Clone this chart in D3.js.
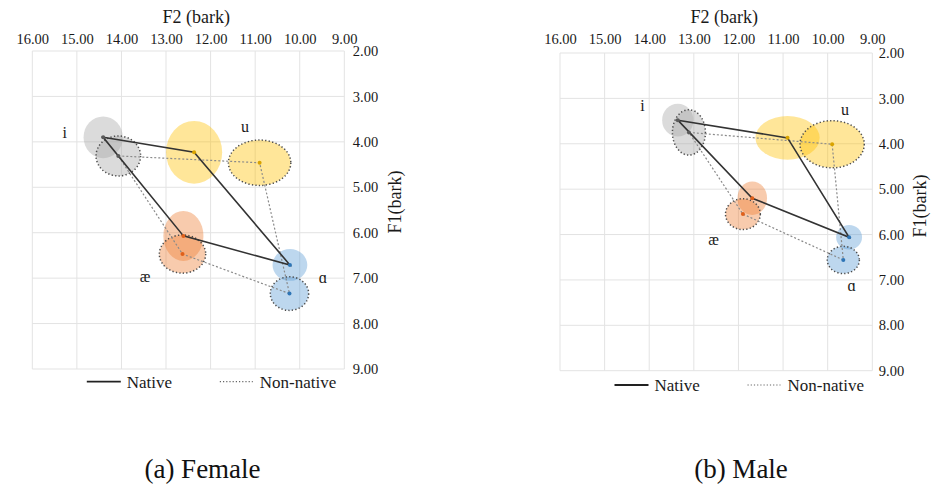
<!DOCTYPE html>
<html lang="en">
<head>
    <meta charset="UTF-8">
    <title>Vowel Space - Female and Male</title>
    <script src="https://d3js.org/d3.v7.min.js"></script>
    <style>
        body { margin: 0; background: white; }
        svg text { font-family: "Liberation Serif", "DejaVu Serif", "Noto Serif", "Times New Roman", Times, serif; }
    </style>
</head>
<body>
    <div id="chart"></div>
    <script>
        const vowels = ["i", "u", "æ", "ɑ"];
        // order the quadrilateral is drawn: i -> u -> a -> ae -> i
        const polygonOrder = ["i", "u", "ɑ", "æ"];
        const f2Ticks = [16, 15, 14, 13, 12, 11, 10, 9];
        const f1Ticks = [2, 3, 4, 5, 6, 7, 8, 9];

        // Female means (bark) and spread (ellipse radii, bark)
        const femaleNativeF2 = [14.41, 12.37, 12.61, 10.22];
        const femaleNativeF1 = [3.90, 4.23, 6.07, 6.71];
        const femaleNativeSdF2 = [0.44, 0.63, 0.45, 0.39];
        const femaleNativeSdF1 = [0.46, 0.69, 0.55, 0.35];
        const femaleNonNativeF2 = [14.07, 10.90, 12.63, 10.23];
        const femaleNonNativeF1 = [4.31, 4.46, 6.47, 7.34];
        const femaleNonNativeSdF2 = [0.50, 0.70, 0.52, 0.43];
        const femaleNonNativeSdF1 = [0.44, 0.50, 0.42, 0.37];

        // Male means (bark) and spread
        const maleNativeF2 = [13.36, 10.90, 11.69, 9.52];
        const maleNativeF1 = [3.48, 3.87, 5.20, 6.06];
        const maleNativeSdF2 = [0.35, 0.72, 0.33, 0.29];
        const maleNativeSdF1 = [0.36, 0.48, 0.37, 0.27];
        const maleNonNativeF2 = [13.11, 9.90, 11.90, 9.65];
        const maleNonNativeF1 = [3.75, 4.01, 5.55, 6.56];
        const maleNonNativeSdF2 = [0.37, 0.72, 0.39, 0.36];
        const maleNonNativeSdF1 = [0.50, 0.52, 0.34, 0.30];

        // fill colour per vowel and darker colour for the mean dot
        const fills = ["#a6a6a6", "#ffc000", "#ed7d31", "#5b9bd5"];
        const dots = ["#595959", "#d9a300", "#e0601a", "#2e75b6"];

        const width = 935, height = 488;
        const serif = "Liberation Serif, DejaVu Serif, Noto Serif, Times New Roman, serif";

        const svg = d3.select("#chart")
            .append("svg")
            .attr("width", width)
            .attr("height", height)
            .attr("font-family", serif);

        function build(f2, f1, sd2, sd1) {
            return vowels.map((v, i) => ({ vowel: v, f2: f2[i], f1: f1[i], sd2: sd2[i], sd1: sd1[i], idx: i }));
        }

        const panels = [
            {
                caption: "(a) Female",
                xr: [32.3, 344.3], yr: [51, 369],
                native: build(femaleNativeF2, femaleNativeF1, femaleNativeSdF2, femaleNativeSdF1),
                nonNative: build(femaleNonNativeF2, femaleNonNativeF1, femaleNonNativeSdF2, femaleNonNativeSdF1),
                // vowel label anchors in bark
                labels: [[15.27, 3.81], [11.23, 3.67], [13.47, 6.97], [9.48, 7.0]],
                yPad: 8.5, f1TitleX: 395, f1TitleY: 202, legendY: 381.7, captionX: 202.5
            },
            {
                caption: "(b) Male",
                xr: [560, 872.3], yr: [53, 370.7],
                native: build(maleNativeF2, maleNativeF1, maleNativeSdF2, maleNativeSdF1),
                nonNative: build(maleNonNativeF2, maleNonNativeF1, maleNonNativeSdF2, maleNonNativeSdF1),
                labels: [[14.15, 3.17], [9.61, 3.26], [12.56, 6.12], [9.46, 7.13]],
                yPad: 6.5, f1TitleX: 920, f1TitleY: 206, legendY: 385, captionX: 741
            }
        ];

        panels.forEach(p => {
            const x = d3.scaleLinear().domain([16, 9]).range(p.xr);
            const y = d3.scaleLinear().domain([2, 9]).range(p.yr);
            const g = svg.append("g");

            // grid
            g.selectAll(".vgrid").data(f2Ticks).enter().append("line")
                .attr("x1", d => x(d)).attr("x2", d => x(d))
                .attr("y1", y(2)).attr("y2", y(9))
                .attr("stroke", "#e3e3e3").attr("stroke-width", 1);
            g.selectAll(".hgrid").data(f1Ticks).enter().append("line")
                .attr("x1", x(16)).attr("x2", x(9))
                .attr("y1", d => y(d)).attr("y2", d => y(d))
                .attr("stroke", "#e3e3e3").attr("stroke-width", 1);

            // F2 axis on top
            const xAxis = g.append("g")
                .attr("transform", `translate(0, ${y(2)})`)
                .call(d3.axisTop(x).tickValues(f2Ticks).tickFormat(d3.format(".2f")).tickSize(0).tickPadding(y(2) - 44));
            xAxis.attr("font-family", serif).attr("font-size", 14.5);
            xAxis.select(".domain").remove();
            xAxis.selectAll("text").attr("fill", "#1a1a1a");

            // F1 axis on right
            const yAxis = g.append("g")
                .attr("transform", `translate(${x(9)}, 0)`)
                .call(d3.axisRight(y).tickValues(f1Ticks).tickFormat(d3.format(".2f")).tickSize(0).tickPadding(p.yPad));
            yAxis.attr("font-family", serif).attr("font-size", 14.5);
            yAxis.select(".domain").remove();
            yAxis.selectAll("text").attr("fill", "#1a1a1a");

            // axis titles
            g.append("text")
                .attr("x", (x(16) + x(9)) / 2 + 8)
                .attr("y", 22.5)
                .attr("text-anchor", "middle")
                .attr("font-size", 18).attr("fill", "#1a1a1a")
                .text("F2 (bark)");
            g.append("text")
                .attr("transform", `translate(${p.f1TitleX}, ${p.f1TitleY}) rotate(-90)`)
                .attr("text-anchor", "middle")
                .attr("dy", "0.35em")
                .attr("font-size", 18).attr("fill", "#1a1a1a")
                .text("F1(bark)");

            // native ellipses (filled)
            g.selectAll(".nat-ell").data(p.native).enter().append("ellipse")
                .attr("cx", d => x(d.f2)).attr("cy", d => y(d.f1))
                .attr("rx", d => Math.abs(x(d.f2 + d.sd2) - x(d.f2)))
                .attr("ry", d => Math.abs(y(d.f1 + d.sd1) - y(d.f1)))
                .attr("fill", d => fills[d.idx]).attr("fill-opacity", 0.4);

            // non-native ellipses (filled, dotted outline)
            g.selectAll(".nn-ell").data(p.nonNative).enter().append("ellipse")
                .attr("cx", d => x(d.f2)).attr("cy", d => y(d.f1))
                .attr("rx", d => Math.abs(x(d.f2 + d.sd2) - x(d.f2)))
                .attr("ry", d => Math.abs(y(d.f1 + d.sd1) - y(d.f1)))
                .attr("fill", d => fills[d.idx]).attr("fill-opacity", 0.4)
                .attr("stroke", "#4d4d4d").attr("stroke-width", 1.5)
                .attr("stroke-dasharray", "1.3,2.2");

            const line = d3.line().x(d => x(d.f2)).y(d => y(d.f1)).curve(d3.curveLinearClosed);
            const ordered = arr => polygonOrder.map(v => arr.find(d => d.vowel === v));

            g.append("path").datum(ordered(p.nonNative))
                .attr("d", line).attr("fill", "none")
                .attr("stroke", "#8a8a8a").attr("stroke-width", 1.2)
                .attr("stroke-dasharray", "2,2");
            g.append("path").datum(ordered(p.native))
                .attr("d", line).attr("fill", "none")
                .attr("stroke", "#333").attr("stroke-width", 1.6);

            // mean dots
            g.selectAll(".dot").data(p.native.concat(p.nonNative)).enter().append("circle")
                .attr("cx", d => x(d.f2)).attr("cy", d => y(d.f1))
                .attr("r", 2).attr("fill", d => dots[d.idx]);

            // vowel labels
            g.selectAll(".vlabel").data(vowels).enter().append("text")
                .attr("x", (d, i) => x(p.labels[i][0]))
                .attr("y", (d, i) => y(p.labels[i][1]))
                .attr("dy", "0.3em")
                .attr("text-anchor", "middle")
                .attr("font-size", 16).attr("fill", "#1a1a1a")
                .text(d => d);

            // legend
            const lx = x(16) + 54.5;
            g.append("line")
                .attr("x1", lx).attr("x2", lx + 34)
                .attr("y1", p.legendY).attr("y2", p.legendY)
                .attr("stroke", "#222").attr("stroke-width", 1.8);
            g.append("text")
                .attr("x", lx + 40).attr("y", p.legendY + 6)
                .attr("font-size", 17).attr("fill", "#1a1a1a")
                .text("Native");
            g.append("line")
                .attr("x1", lx + 133).attr("x2", lx + 166)
                .attr("y1", p.legendY).attr("y2", p.legendY)
                .attr("stroke", "#666").attr("stroke-width", 1.2)
                .attr("stroke-dasharray", "1.2,2");
            g.append("text")
                .attr("x", lx + 173).attr("y", p.legendY + 6)
                .attr("font-size", 17).attr("fill", "#1a1a1a")
                .text("Non-native");

            // caption
            g.append("text")
                .attr("x", p.captionX).attr("y", 478)
                .attr("text-anchor", "middle")
                .attr("font-size", 27).attr("fill", "#111")
                .text(p.caption);
        });
    </script>
</body>
</html>
